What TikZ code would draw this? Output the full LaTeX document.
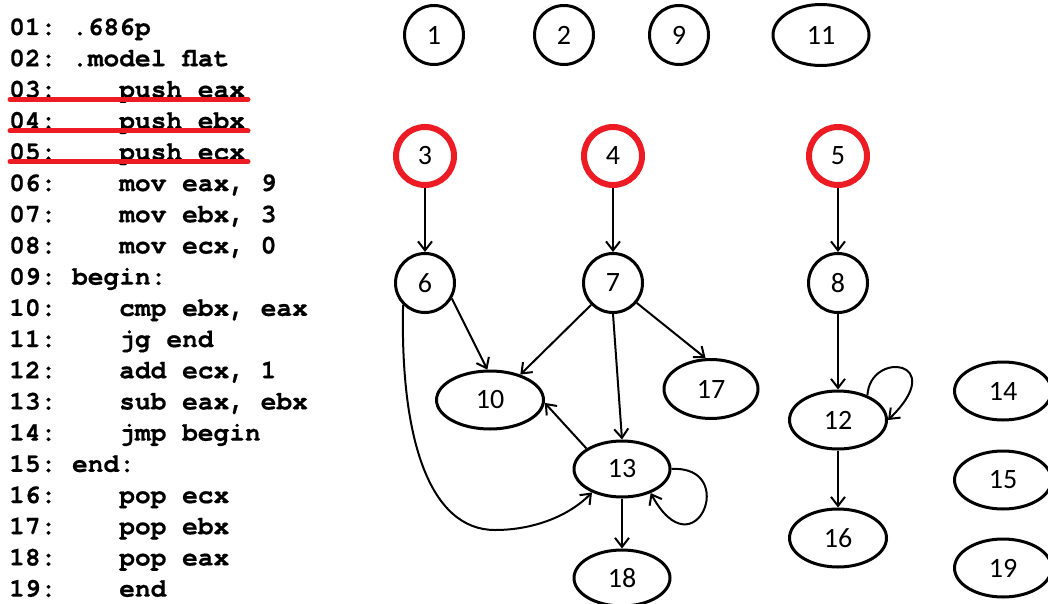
\documentclass[tikz,border=0pt]{standalone}
\usepackage{fontspec}
\setmainfont{Carlito}
\newfontfamily\codefont{texgyrecursor}[Extension=.otf,UprightFont=*-regular,BoldFont=*-bold,BoldFeatures={FakeBold=0.6}]
\usetikzlibrary{shapes.geometric,arrows.meta}
\definecolor{hlred}{RGB}{237,28,36}
\begin{document}
\begin{tikzpicture}[x=1pt,y=-1pt,
  code/.style={anchor=base west,inner sep=0pt,font=\codefont\bfseries\fontsize{26.2}{26}\selectfont},
  circ/.style={circle,draw,line width=3pt,minimum size=59pt,inner sep=0pt,font=\fontsize{28}{28}\selectfont},
  redcirc/.style={circ,draw=hlred,line width=6pt,minimum size=58pt},
  ell/.style={ellipse,draw,line width=3pt,minimum width=96pt,minimum height=58pt,inner sep=0pt,font=\fontsize{28}{28}\selectfont},
  edge/.style={line width=2pt,-{Straight Barb[length=9pt,width=14pt]}},
  uline/.style={hlred,line width=5pt,line cap=round}]
\useasboundingbox (0,0) rectangle (1048,604);
% code listing
\node[code] (c1)  at (9,35.0)  {01:~.686p};
\node[code] (c2)  at (9,66.2)  {02:~.model flat};
\node[code] (c3)  at (9,97.4)  {03:~~~~push eax};
\node[code] (c4)  at (9,128.6) {04:~~~~push ebx};
\node[code] (c5)  at (9,159.8) {05:~~~~push ecx};
\node[code] (c6)  at (9,191.0) {06:~~~~mov eax, 9};
\node[code] (c7)  at (9,222.2) {07:~~~~mov ebx, 3};
\node[code] (c8)  at (9,253.4) {08:~~~~mov ecx, 0};
\node[code] (c9)  at (9,284.6) {09:~begin:};
\node[code] (c10) at (9,315.8) {10:~~~~cmp ebx, eax};
\node[code] (c11) at (9,347.0) {11:~~~~jg end};
\node[code] (c12) at (9,378.2) {12:~~~~add ecx, 1};
\node[code] (c13) at (9,409.4) {13:~~~~sub eax, ebx};
\node[code] (c14) at (9,440.6) {14:~~~~jmp begin};
\node[code] (c15) at (9,471.8) {15:~end:};
\node[code] (c16) at (9,503.0) {16:~~~~pop ecx};
\node[code] (c17) at (9,534.2) {17:~~~~pop ebx};
\node[code] (c18) at (9,565.4) {18:~~~~pop eax};
\node[code] (c19) at (9,596.6) {19:~~~~end};
\draw[uline] (10,99.5) -- (248,99.5);
\draw[uline] (10,131) -- (248,131);
\draw[uline] (10,161.5) -- (248,161.5);
% graph nodes
\node[circ] (n1) at (434,35) {1};
\node[circ] (n2) at (564,35) {2};
\node[circ] (n9) at (679,35) {9};
\node[ell,minimum height=61pt] (n11) at (821,35) {11};
\node[redcirc] (n3) at (425,156) {3};
\node[redcirc] (n4) at (613,156) {4};
\node[redcirc] (n5) at (838,156) {5};
\node[circ] (n6) at (425,283) {6};
\node[circ] (n7) at (613,283) {7};
\node[circ] (n8) at (838,283) {8};
\node[ell,minimum width=107pt] (n10) at (490,400) {10};
\node[ell,minimum width=94pt,minimum height=59pt] (n17) at (711,389) {17};
\node[ell,minimum height=56pt] (n13) at (622,469) {13};
\node[ell,minimum height=56pt] (n18) at (622,578) {18};
\node[ell,minimum width=97pt] (n12) at (838,420) {12};
\node[ell,minimum width=97pt] (n16) at (838,538) {16};
\node[ell,minimum width=97pt] (n14) at (1003,391) {14};
\node[ell,minimum width=97pt] (n15) at (1003,480) {15};
\node[ell,minimum width=97pt] (n19) at (1003,568) {19};
% edges
\draw[edge] (n3) -- (n6);
\draw[edge] (n4) -- (n7);
\draw[edge] (n5) -- (n8);
\draw[edge] (n8) -- (n12);
\draw[edge] (n12) -- (n16);
\draw[edge] (n13) -- (n18);
\draw[edge] (n6.-30) -- (n10.95);
\draw[edge] (n7.225) -- (n10.40);
\draw[edge] (n7.south) -- (n13.north);
\draw[edge] (n7.-40) -- (n17.100);
\draw[edge] (n13.150) -- (n10.-3);
\draw[edge] (n6.225) .. controls (400,440) and (430,530) .. (495,530) .. controls (535,530) and (570,515) .. (n13.218);
\draw[edge] (n13.east) .. controls (740,465) and (695,575) .. (n13.-40);
\draw[edge] (n12.40) .. controls (870,350) and (950,360) .. (n12.east);
\end{tikzpicture}
\end{document}
